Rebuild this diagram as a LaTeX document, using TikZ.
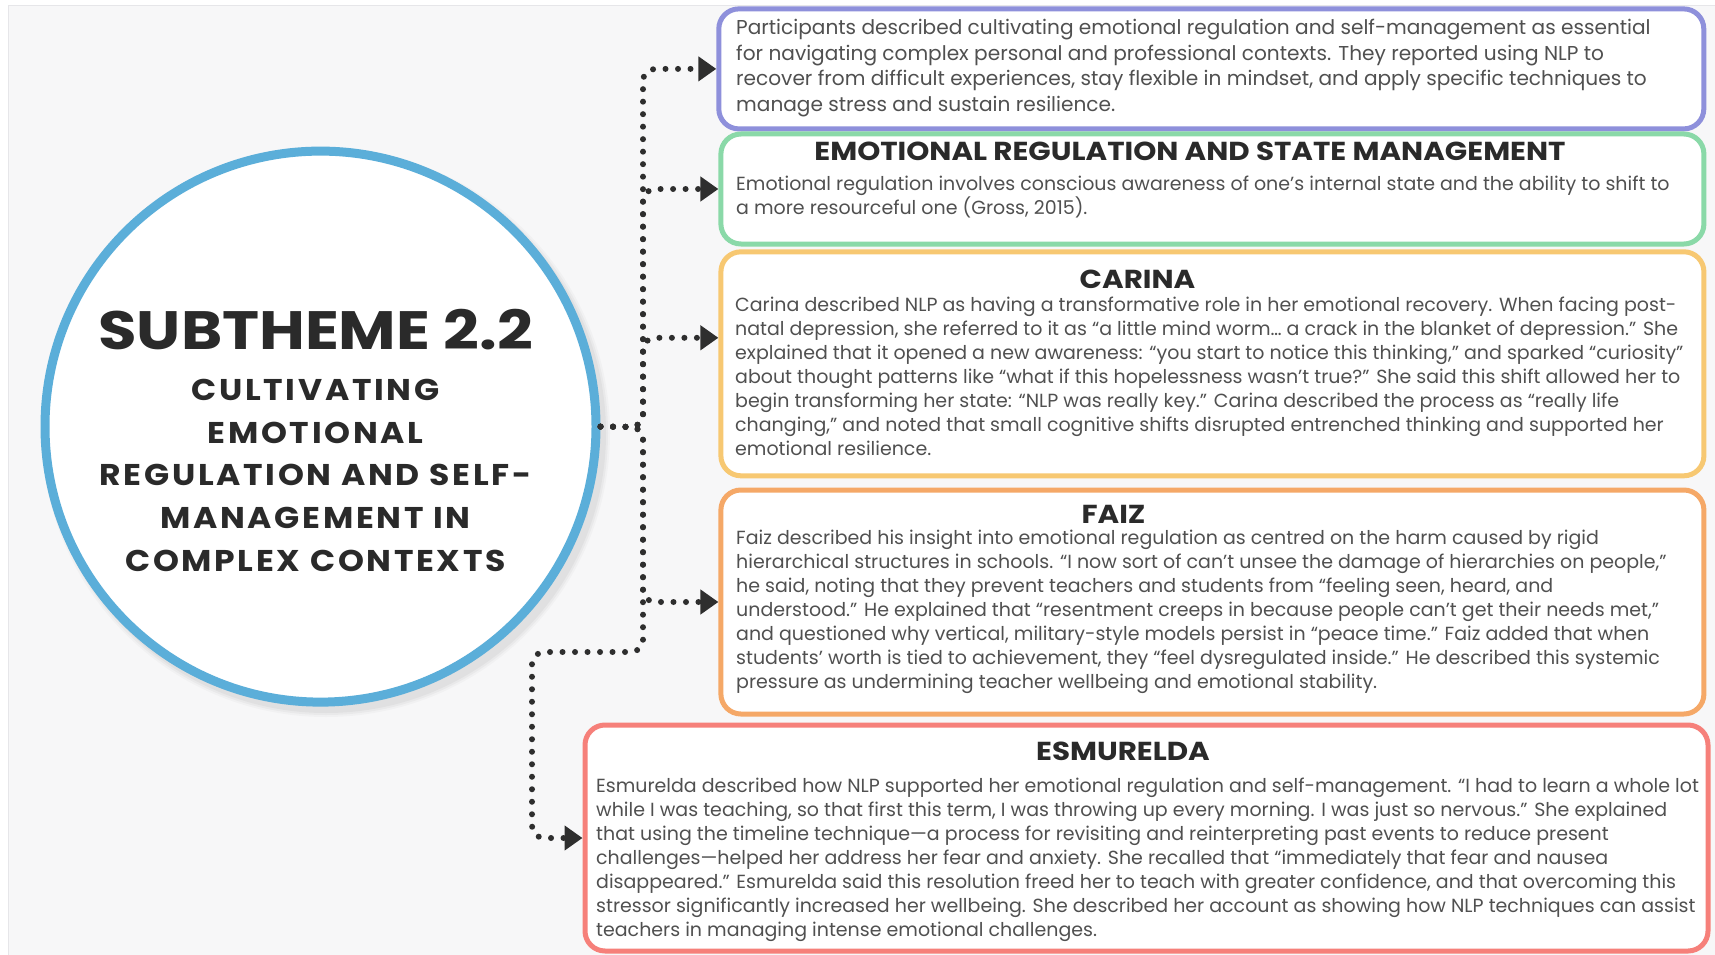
\documentclass[tikz,border=0pt]{standalone}
\usepackage{fontspec}
\setmainfont{Poppins}
\newfontfamily\capsfont[FakeStretch=1.1,LetterSpace=9]{Poppins}
\newfontfamily\titlefont[FakeStretch=1.16]{Poppins}
\newfontfamily\headfont[FakeStretch=1.13]{Poppins}
\usetikzlibrary{arrows.meta}

\definecolor{pagegray}{HTML}{F7F7F8}
\definecolor{edgegray}{HTML}{E6E6E9}
\definecolor{ringblue}{HTML}{5BAED9}
\definecolor{cpurple}{HTML}{8E90DB}
\definecolor{cgreen}{HTML}{8AD9A8}
\definecolor{cyellow}{HTML}{F7C872}
\definecolor{corange}{HTML}{F5A867}
\definecolor{cred}{HTML}{F6807A}
\definecolor{bodytext}{HTML}{505050}
\definecolor{headtext}{HTML}{2A2A2A}
\definecolor{dotink}{HTML}{2E2E2E}

\begin{document}
\begin{tikzpicture}[x=1pt,y=-1pt,
  card/.style={draw, line width=5pt, rounded corners=20pt, fill=white, inner sep=0pt},
  % multi-line bodies are placed by the baseline of their last line
  body/.style={anchor=base west, align=left, inner sep=0pt, text=bodytext,
               font=\fontsize{19}{24.06}\selectfont},
  head/.style={anchor=base, inner sep=0pt, text=headtext,
               font=\headfont\bfseries\fontsize{26}{30}\selectfont},
  ringline/.style={anchor=base, inner sep=0pt, text=headtext,
               font=\capsfont\bfseries\fontsize{30}{36}\selectfont},
  conn/.style={draw=dotink, line width=6pt, line cap=round,
               dash pattern=on 0pt off 12.5pt, rounded corners=12pt,
               -{Triangle[length=18pt,width=24pt]}}
]
\useasboundingbox (0,0) rectangle (1715,955);

% page background
\fill[white] (0,0) rectangle (1715,955);
\filldraw[fill=pagegray, draw=edgegray, line width=1pt] (8,6) rectangle (1716,956);

% soft shadow under the ring
\foreach \r/\o in {284/0.025,282/0.03,280/0.035}
  \fill[black, opacity=\o] (326,433) circle (\r);

% central ring
\node[circle, draw=ringblue, line width=9pt, fill=white, minimum size=551pt, inner sep=0pt]
  (circ) at (320.5,426.6) {};
\node[anchor=base, inner sep=0pt, text=headtext, font=\titlefont\bfseries\fontsize{54}{60}\selectfont]
  (ctitle) at (315.6,349.5) {SUBTHEME 2.2};
\node[ringline] (c1) at (315.5,400.4) {CULTIVATING};
\node[ringline] (c2) at (315.5,443.0) {EMOTIONAL};
\node[ringline] (c3) at (315.5,485.7) {REGULATION AND SELF-};
\node[ringline] (c4) at (315.5,528.4) {MANAGEMENT IN};
\node[ringline] (c5) at (315.5,571.0) {COMPLEX CONTEXTS};

% cards
\node[card, draw=cpurple, minimum width=985pt, minimum height=120pt] (b1) at (1211.3,68.9) {};
\node[card, draw=cgreen,  minimum width=983pt, minimum height=110pt] (b2) at (1212.4,189.0) {};
\node[card, draw=cyellow, minimum width=983pt, minimum height=224pt] (b3) at (1212.4,363.8) {};
\node[card, draw=corange, minimum width=983pt, minimum height=224pt] (b4) at (1212.4,602.0) {};
\node[card, draw=cred,    minimum width=1123pt, minimum height=226pt] (b5) at (1146.5,838.0) {};

% card texts
\node[body, font=\fontsize{20.1}{25.5}\selectfont] (t1) at (736,111.5) {%
Participants described cultivating emotional regulation and self-management as essential\\
for navigating complex personal and professional contexts. They reported using NLP to\\
recover from difficult experiences, stay flexible in mindset, and apply specific techniques to\\
manage stress and sustain resilience.};

\node[head] (h2) at (1190,160) {EMOTIONAL REGULATION AND STATE MANAGEMENT};
\node[body] (t2) at (736,214.4) {%
Emotional regulation involves conscious awareness of one’s internal state and the ability to shift to\\
a more resourceful one (Gross, 2015).};

\node[head] (h3) at (1137.5,288) {CARINA};
\node[body] (t3) at (735,455.9) {%
Carina described NLP as having a transformative role in her emotional recovery. When facing post-\\
natal depression, she referred to it as “a little mind worm… a crack in the blanket of depression.” She\\
explained that it opened a new awareness: “you start to notice this thinking,” and sparked “curiosity”\\
about thought patterns like “what if this hopelessness wasn’t true?” She said this shift allowed her to\\
begin transforming her state: “NLP was really key.” Carina described the process as “really life\\
changing,” and noted that small cognitive shifts disrupted entrenched thinking and supported her\\
emotional resilience.};

\node[head] (h4) at (1113.5,523) {FAIZ};
\node[body] (t4) at (736,688.9) {%
Faiz described his insight into emotional regulation as centred on the harm caused by rigid\\
hierarchical structures in schools. “I now sort of can’t unsee the damage of hierarchies on people,”\\
he said, noting that they prevent teachers and students from “feeling seen, heard, and\\
understood.” He explained that “resentment creeps in because people can’t get their needs met,”\\
and questioned why vertical, military-style models persist in “peace time.” Faiz added that when\\
students’ worth is tied to achievement, they “feel dysregulated inside.” He described this systemic\\
pressure as undermining teacher wellbeing and emotional stability.};

\node[head] (h5) at (1123,760.5) {ESMURELDA};
\node[body] (t5) at (596,936.4) {%
Esmurelda described how NLP supported her emotional regulation and self-management. “I had to learn a whole lot\\
while I was teaching, so that first this term, I was throwing up every morning. I was just so nervous.” She explained\\
that using the timeline technique—a process for revisiting and reinterpreting past events to reduce present\\
challenges—helped her address her fear and anxiety. She recalled that “immediately that fear and nausea\\
disappeared.” Esmurelda said this resolution freed her to teach with greater confidence, and that overcoming this\\
stressor significantly increased her wellbeing. She described her account as showing how NLP techniques can assist\\
teachers in managing intense emotional challenges.};

% dotted connectors
\coordinate (tj) at (643,427);
\coordinate (bend) at (532,652);
\draw[conn] (circ.east) -- (tj) |- (b1.west);
\draw[conn] (circ.east) -- (tj) |- (b2.west);
\draw[conn] (circ.east) -- (tj) |- ([yshift=26pt]b3.west);
\draw[conn] (circ.east) -- (tj) |- (b4.west);
\draw[conn] (circ.east) -- (tj) |- (bend) |- (b5.west);
\end{tikzpicture}
\end{document}
